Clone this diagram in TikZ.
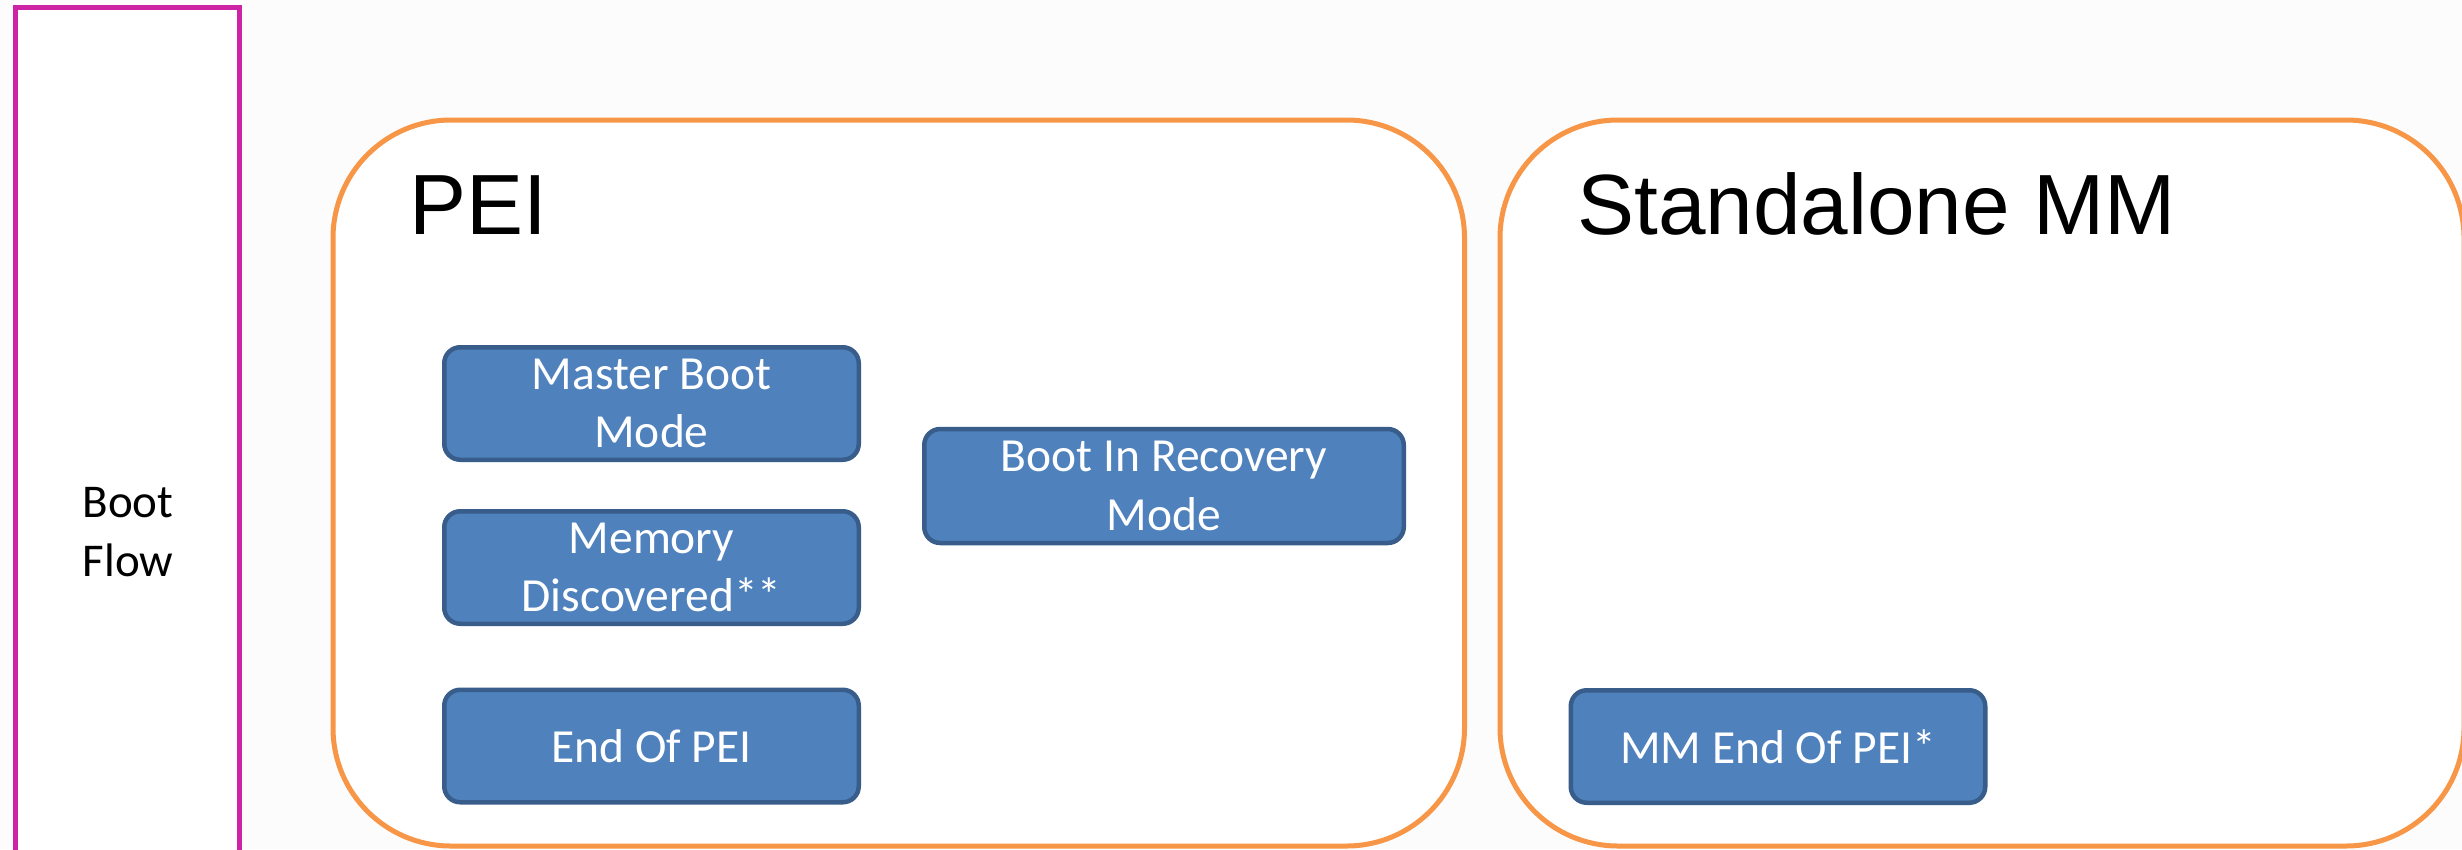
\documentclass[tikz,border=0pt]{standalone}
\usepackage{fontspec}
\setmainfont{Carlito}
\newfontfamily\titlefont{Liberation Sans}

\definecolor{pagebg}{RGB}{252,252,252}
\definecolor{flowline}{RGB}{205,36,165}
\definecolor{phaseline}{RGB}{247,150,70}
\definecolor{evfill}{RGB}{79,129,189}
\definecolor{evborder}{RGB}{56,93,138}

\tikzset{
  flowframe/.style={draw=flowline, fill=white, line width=5pt},
  phase/.style={draw=phaseline, fill=white, line width=5pt, rounded corners=118pt,
    minimum height=726pt, inner sep=0pt},
  phasetitle/.style={anchor=base west, inner sep=0pt,
    font=\titlefont\fontsize{85.5}{100}\selectfont},
  event/.style={draw=evborder, fill=evfill, line width=4.5pt, rounded corners=16pt,
    minimum width=414.5pt, minimum height=112.5pt, inner sep=0pt,
    text=white, align=center, font=\fontsize{47.5}{58.5}\selectfont},
  flowlabel/.style={align=center, inner sep=0pt, font=\fontsize{47}{58.5}\selectfont}
}

\begin{document}
\begin{tikzpicture}[x=1pt,y=-1pt]
  \useasboundingbox (0,0) rectangle (2462,849);
  \clip (0,0) rectangle (2462,849);
  \fill[pagebg] (0,0) rectangle (2462,849);

  % boot flow column
  \draw[flowframe] (15.5,7.5) rectangle (239.5,880);
  \node[flowlabel] (flow) at (128,532) {Boot\\Flow};

  % phases
  \node[phase, minimum width=1131.5pt] (pei) at (898.75,483) {};
  \node[phase, minimum width=964pt] (smm) at (1982,483) {};
  \node[phasetitle] (peititle) at (409,234) {PEI};
  \node[phasetitle] (smmtitle) at (1577,234) {Standalone MM};

  % events
  \node[event] (master) at (651.5,403.5) {Master Boot\\Mode};
  \node[event] (memory) at (651.5,567.5) {Memory\\Discovered**};
  \node[event] (endpei) at (651.5,746) {End Of PEI};
  \node[event, minimum width=479.5pt, minimum height=114pt] (recovery) at (1164,486) {Boot In Recovery\\Mode};
  \node[event] (mmend) at (1778,746.5) {MM End Of PEI*};
\end{tikzpicture}
\end{document}
